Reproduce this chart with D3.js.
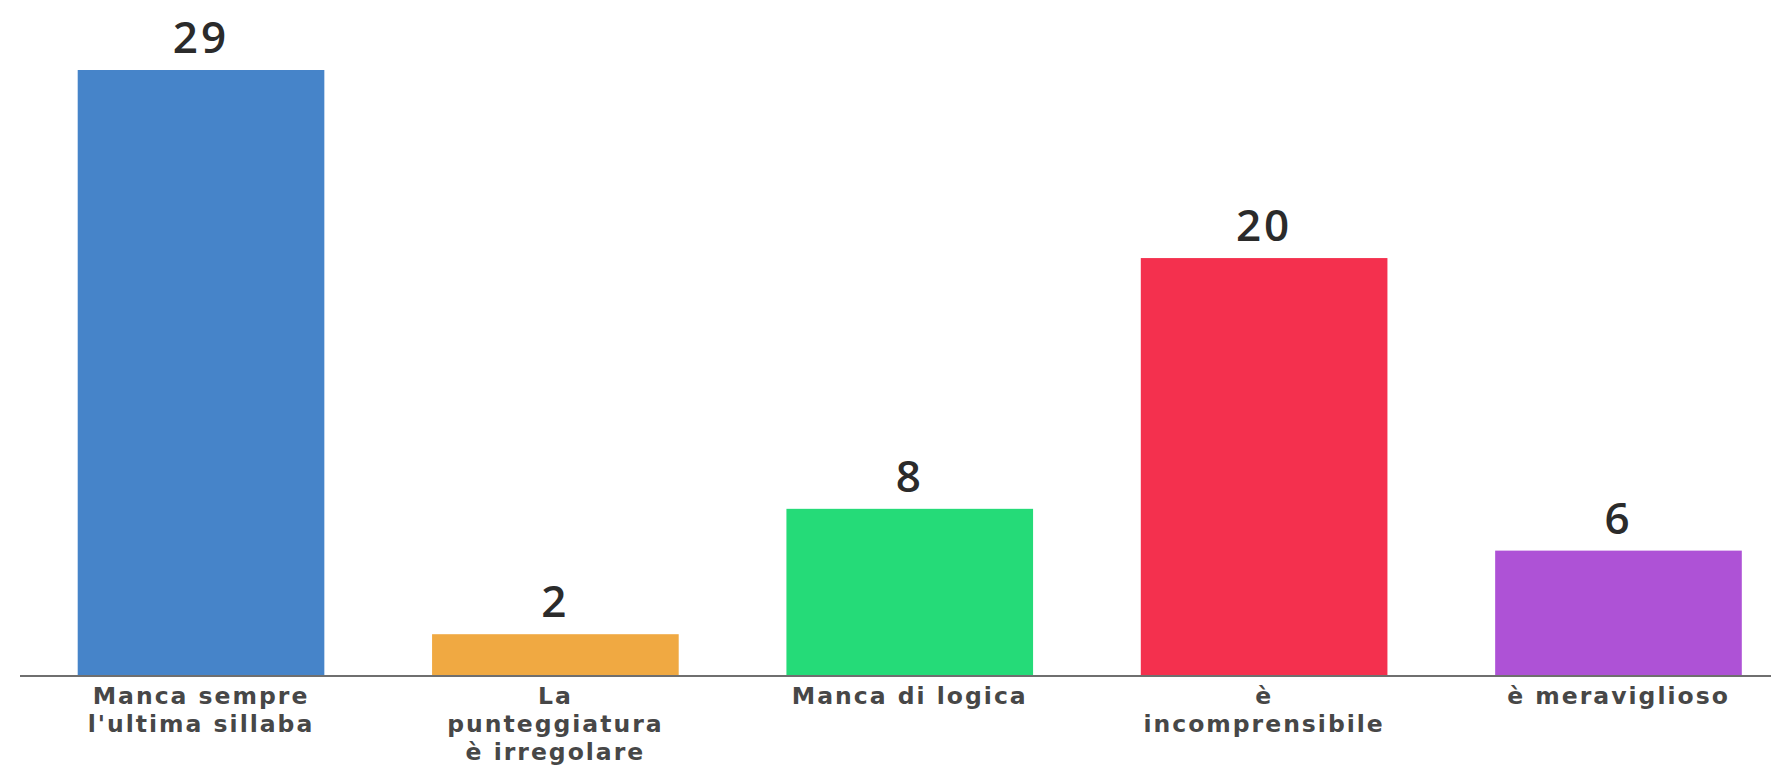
<!DOCTYPE html>
<html>
<head>
<meta charset="utf-8">
<script src="https://cdn.jsdelivr.net/npm/d3@7"></script>
<style>
  html, body { margin: 0; padding: 0; background: #fff; }
  svg { display: block; }
</style>
</head>
<body>
<svg id="chart" width="1771" height="768"></svg>
<script>
const categories = [
  ["Manca sempre", "l'ultima sillaba"],
  ["La", "punteggiatura", "è irregolare"],
  ["Manca di logica"],
  ["è", "incomprensibile"],
  ["è meraviglioso"]
];
const values = [29, 2, 8, 20, 6];
const colors = ["#4684c9", "#f0a942", "#25db78", "#f4304e", "#ae52d6"];

const W = 1771, H = 768;
const baseY = 676;
const svg = d3.select("#chart");

const keys = categories.map(c => c.join(" "));
const x = d3.scaleBand().domain(keys).range([77.7, 1741.8]).paddingInner(0.304).paddingOuter(0);
const y = d3.scaleLinear().domain([0, 29]).range([baseY, 70]);

const data = keys.map((k, i) => ({ key: k, lines: categories[i], value: values[i], color: colors[i] }));

svg.selectAll("rect.bar").data(data).join("rect")
  .attr("class", "bar")
  .attr("x", d => x(d.key))
  .attr("y", d => y(d.value))
  .attr("width", x.bandwidth())
  .attr("height", d => y(0) - y(d.value))
  .attr("fill", d => d.color);

svg.selectAll("text.val").data(data).join("text")
  .attr("class", "val")
  .attr("x", d => x(d.key) + x.bandwidth() / 2)
  .attr("y", d => y(d.value) - 17)
  .attr("text-anchor", "middle")
  .attr("font-family", "'Open Sans', sans-serif")
  .attr("font-weight", 600)
  .attr("font-size", 44)
  .attr("letter-spacing", 3)
  .attr("fill", "#2b2b2b")
  .text(d => d.value);

// baseline
svg.append("line")
  .attr("x1", 20).attr("x2", W)
  .attr("y1", baseY).attr("y2", baseY)
  .attr("stroke", "#6f6f6f")
  .attr("stroke-width", 2);

// category axis
const axis = d3.axisBottom(x).tickSize(0).tickFormat("");
const gAx = svg.append("g").attr("transform", `translate(0,${baseY})`).call(axis);
gAx.select(".domain").remove();
gAx.selectAll(".tick").each(function(k, i) {
  const t = d3.select(this).append("text")
    .attr("text-anchor", "middle")
    .attr("font-family", "'DejaVu Sans', sans-serif")
    .attr("font-weight", 700)
    .attr("font-size", 23.5)
    .attr("letter-spacing", 2)
    .attr("fill", "#474747");
  data[i].lines.forEach((ln, j) => {
    t.append("tspan").attr("x", 0).attr("y", 28 + j * 28).text(ln);
  });
});
</script>
</body>
</html>
